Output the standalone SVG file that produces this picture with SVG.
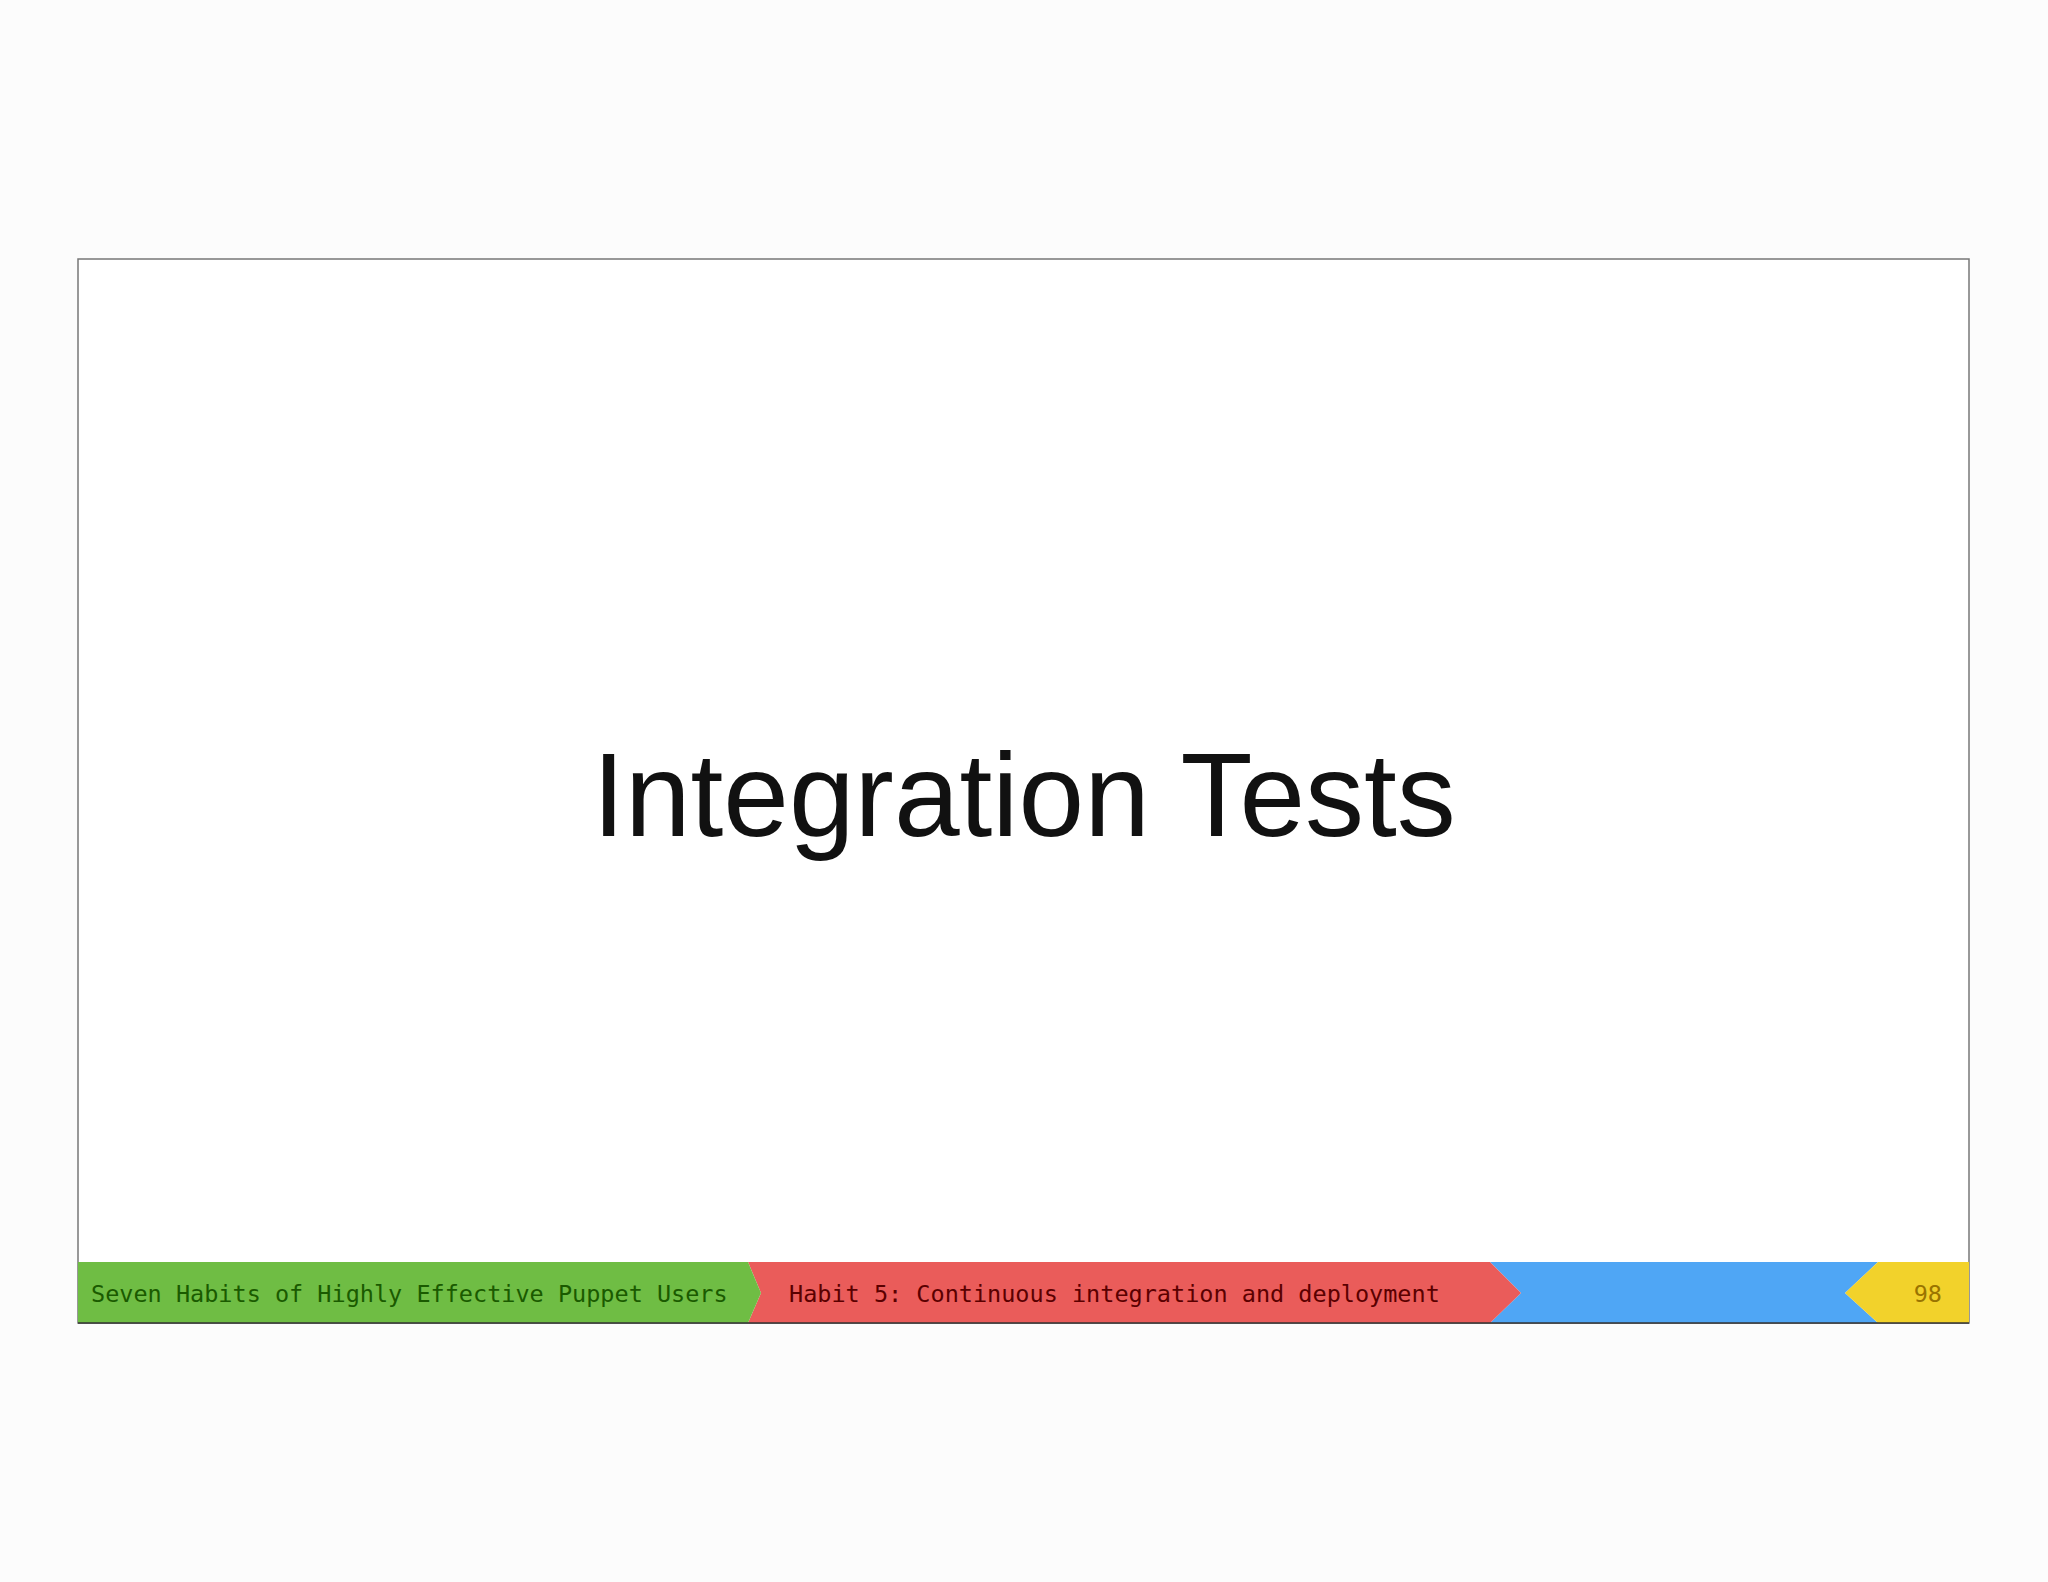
<svg xmlns="http://www.w3.org/2000/svg" width="2048" height="1582" viewBox="0 0 2048 1582">
<style>.m{font-family:"DejaVu Sans Mono","Liberation Mono",monospace;font-size:23.5px}</style>
<rect width="2048" height="1582" fill="#fcfcfc"/>
<g id="frame"><rect x="78" y="259" width="1891" height="1064" fill="#fff" stroke="#777" stroke-width="1.5"/></g>
<g id="title"><text x="1024" y="836" text-anchor="middle" font-family="Liberation Sans,Arial,sans-serif" font-size="118" fill="#111">Integration Tests</text></g>
<g id="footer">
<polygon points="1490,1262 1878,1262 1845,1293 1878,1323 1490,1323 1521,1293" fill="#4fa6f5"/>
<polygon points="1878,1262 1969,1262 1969,1323 1878,1323 1845,1293" fill="#f2d22b"/>
<polygon points="748,1262 1490,1262 1521,1293 1490,1323 748,1323 761,1293" fill="#ea5c5a"/>
<polygon points="78,1262 748,1262 761,1293 748,1323 78,1323" fill="#6fbd44"/>
<line x1="78" y1="1323" x2="1969" y2="1323" stroke="#333" stroke-width="1.5"/>
<text class="m" x="91" y="1302" fill="#1a5a00">Seven Habits of Highly Effective Puppet Users</text>
<text class="m" x="789" y="1302" fill="#5a0000">Habit 5: Continuous integration and deployment</text>
<text class="m" x="1942" y="1302" text-anchor="end" fill="#9a7400">98</text>
</g>
</svg>
